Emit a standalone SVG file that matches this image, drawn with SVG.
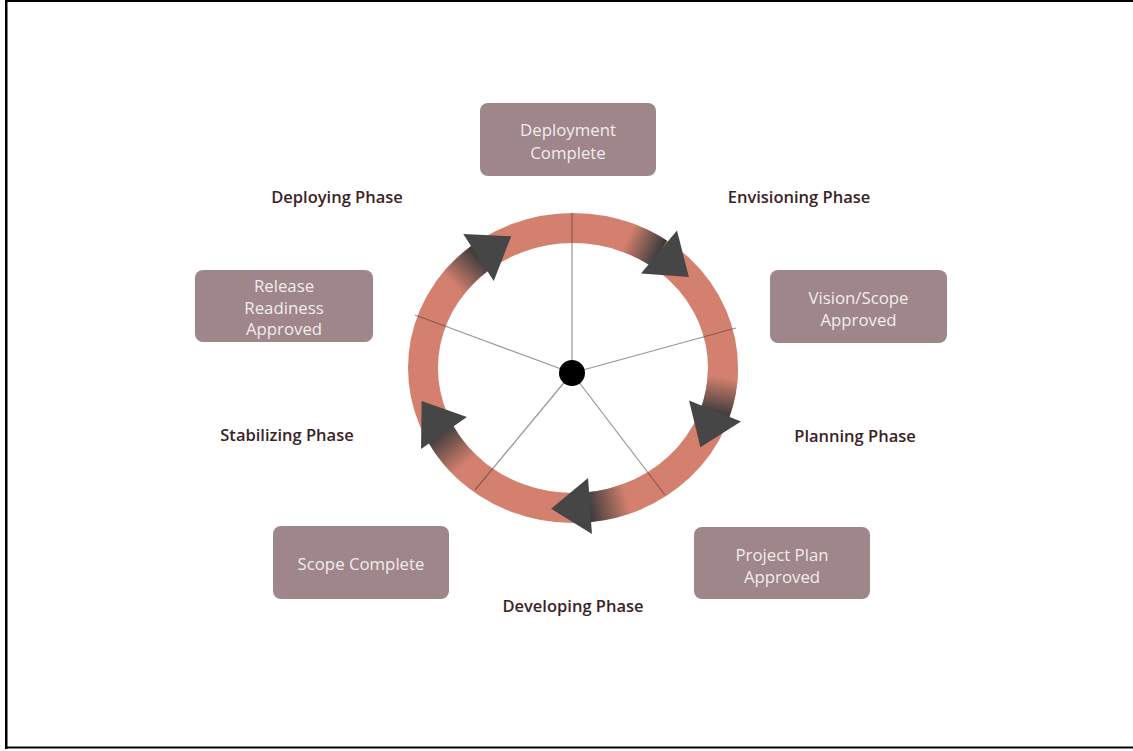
<svg xmlns="http://www.w3.org/2000/svg" width="1133" height="751" viewBox="0 0 1133 751">
  <style>
    .box rect { fill: #9e868a; }
    .box text { font-family: "Open Sans", "Liberation Sans", sans-serif; font-size: 16.8px; fill: #f4ecec; text-anchor: middle; }
    .phase { font-family: "Open Sans", "Liberation Sans", sans-serif; font-size: 16.5px; font-weight: 600; fill: #3a2326; text-anchor: middle; }
    .ring { fill: none; stroke: #d4806e; stroke-width: 30; }
    .tail { fill: none; stroke-width: 30; }
    .spoke { stroke: #4a3a3a; stroke-opacity: 0.55; stroke-width: 1.2; }
    .head { fill: #464646; }
  </style>
  <defs>
    <!-- arrowhead: back edge on the y axis, tip along +x -->
    <path id="arrowhead" d="M0,-28 L39,0 L0,28 Z"/>
    <linearGradient id="tail1" gradientUnits="userSpaceOnUse" x1="619.4" y1="234.9" x2="659" y2="253.3">
      <stop offset="0" stop-color="#d4806e"/><stop offset="0.2" stop-color="#d4806e"/><stop offset="1" stop-color="#3c3c3c"/>
    </linearGradient>
    <linearGradient id="tail2" gradientUnits="userSpaceOnUse" x1="723" y1="368" x2="714.8" y2="413.6">
      <stop offset="0" stop-color="#d4806e"/><stop offset="0.2" stop-color="#d4806e"/><stop offset="1" stop-color="#3c3c3c"/>
    </linearGradient>
    <linearGradient id="tail3" gradientUnits="userSpaceOnUse" x1="636.4" y1="494.9" x2="588.7" y2="507.2">
      <stop offset="0" stop-color="#d4806e"/><stop offset="0.2" stop-color="#d4806e"/><stop offset="1" stop-color="#3c3c3c"/>
    </linearGradient>
    <linearGradient id="tail4" gradientUnits="userSpaceOnUse" x1="472.6" y1="472" x2="439.4" y2="431.6">
      <stop offset="0" stop-color="#d4806e"/><stop offset="0.2" stop-color="#d4806e"/><stop offset="1" stop-color="#3c3c3c"/>
    </linearGradient>
    <linearGradient id="tail5" gradientUnits="userSpaceOnUse" x1="447.2" y1="291.8" x2="480.7" y2="257.7">
      <stop offset="0" stop-color="#d4806e"/><stop offset="0.2" stop-color="#d4806e"/><stop offset="1" stop-color="#3c3c3c"/>
    </linearGradient>
  </defs>

  <rect width="1133" height="751" fill="#ffffff"/>

  <!-- frame -->
  <g id="frame" fill="#000000">
    <rect x="5" y="0" width="1128" height="2"/>
    <rect x="5" y="0" width="2.5" height="749"/>
    <rect x="5" y="746.5" width="1128" height="2"/>
  </g>

  <!-- cycle ring with spokes -->
  <g id="cycle">
    <ellipse class="ring" cx="573" cy="368" rx="150" ry="140"/>
    <line class="spoke" x1="572" y1="373" x2="572" y2="213"/>
    <line class="spoke" x1="572" y1="373" x2="736" y2="328"/>
    <line class="spoke" x1="572" y1="373" x2="665" y2="495"/>
    <line class="spoke" x1="572" y1="373" x2="475" y2="490"/>
    <line class="spoke" x1="572" y1="373" x2="415" y2="315"/>
    <circle cx="572" cy="373" r="13" fill="#000000"/>
  </g>

  <!-- phase arrows along the ring -->
  <g id="connectors">
    <path class="tail" stroke="url(#tail1)" d="M619.4,234.9 A150,140 0 0 1 659,253.3"/>
    <path class="tail" stroke="url(#tail2)" d="M723,368 A150,140 0 0 1 714.8,413.6"/>
    <path class="tail" stroke="url(#tail3)" d="M636.4,494.9 A150,140 0 0 1 588.7,507.2"/>
    <path class="tail" stroke="url(#tail4)" d="M472.6,472 A150,140 0 0 1 439.4,431.6"/>
    <path class="tail" stroke="url(#tail5)" d="M447.2,291.8 A150,140 0 0 1 480.7,257.7"/>
    <use class="head" href="#arrowhead" transform="translate(659,252) rotate(40)"/>
    <use class="head" href="#arrowhead" transform="translate(715,411) rotate(112)"/>
    <use class="head" href="#arrowhead" transform="translate(590,506) rotate(176)"/>
    <use class="head" href="#arrowhead" transform="translate(444,433) rotate(235)"/>
    <use class="head" href="#arrowhead" transform="translate(478.5,257.5) rotate(-33)"/>
  </g>

  <!-- milestone boxes -->
  <g id="deployment-complete" class="box">
    <rect x="480" y="103" width="176" height="73" rx="8"/>
    <text x="568" y="136">Deployment</text>
    <text x="568" y="159">Complete</text>
  </g>
  <g id="vision-scope-approved" class="box">
    <rect x="770" y="270" width="177" height="73" rx="8"/>
    <text x="858.5" y="304">Vision/Scope</text>
    <text x="858.5" y="326">Approved</text>
  </g>
  <g id="project-plan-approved" class="box">
    <rect x="694" y="527" width="176" height="72" rx="8"/>
    <text x="782" y="561">Project Plan</text>
    <text x="782" y="583">Approved</text>
  </g>
  <g id="scope-complete" class="box">
    <rect x="273" y="526" width="176" height="73" rx="8"/>
    <text x="361" y="570">Scope Complete</text>
  </g>
  <g id="release-readiness-approved" class="box">
    <rect x="195" y="270" width="178" height="72" rx="8"/>
    <text x="284" y="292">Release</text>
    <text x="284" y="313.5">Readiness</text>
    <text x="284" y="335">Approved</text>
  </g>

  <!-- phase labels -->
  <g id="envisioning-phase"><text class="phase" x="799" y="203">Envisioning Phase</text></g>
  <g id="planning-phase"><text class="phase" x="855" y="442">Planning Phase</text></g>
  <g id="developing-phase"><text class="phase" x="573" y="612">Developing Phase</text></g>
  <g id="stabilizing-phase"><text class="phase" x="287" y="441">Stabilizing Phase</text></g>
  <g id="deploying-phase"><text class="phase" x="337" y="203">Deploying Phase</text></g>
</svg>
